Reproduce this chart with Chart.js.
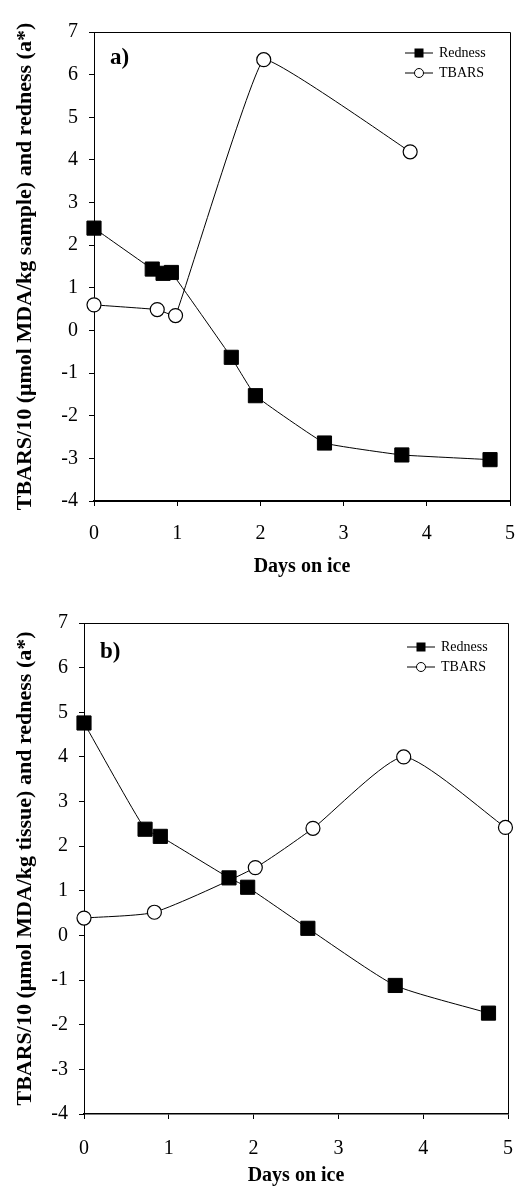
<!DOCTYPE html>
<html>
<head>
<meta charset="utf-8">
<script src="https://cdn.jsdelivr.net/npm/chart.js@4/dist/chart.umd.min.js"></script>
<style>
  body { margin: 0; background: #fff; }
  #wrapA { position: absolute; left: 0; top: 0; }
  #wrapB { position: absolute; left: 0; top: 590px; }
</style>
</head>
<body>
<div id="wrapA"><canvas id="chartA" width="531" height="590"></canvas></div>
<div id="wrapB"><canvas id="chartB" width="531" height="598"></canvas></div>
<script>
// panel a) - sample
const daysRedA = [0, 0.70, 0.83, 0.93, 1.65, 1.94, 2.77, 3.70, 4.76];
const rednessA = [2.40, 1.44, 1.34, 1.36, -0.63, -1.53, -2.64, -2.92, -3.03];
const daysTbarsA = [0, 0.76, 0.98, 2.04, 3.80];
const tbarsA = [0.60, 0.49, 0.35, 6.35, 4.19];

// panel b) - tissue
const daysRedB = [0, 0.72, 0.90, 1.71, 1.93, 2.64, 3.67, 4.77];
const rednessB = [4.76, 2.38, 2.22, 1.29, 1.08, 0.16, -1.12, -1.74];
const daysTbarsB = [0, 0.83, 2.02, 2.70, 3.77, 4.97];
const tbarsB = [0.39, 0.52, 1.52, 2.40, 4.00, 2.42];

const xTicks = [0, 1, 2, 3, 4, 5];
const yTicks = [-4, -3, -2, -1, 0, 1, 2, 3, 4, 5, 6, 7];

const serif = "'Liberation Serif', 'Times New Roman', serif";

function toPoints(xs, ys) {
    return xs.map((x, i) => ({ x: x, y: ys[i] }));
}

// top + right border of the plot box
const frame = {
    id: 'frame',
    beforeDatasetsDraw(chart) {
        const a = chart.chartArea;
        const ctx = chart.ctx;
        ctx.save();
        ctx.strokeStyle = '#000';
        ctx.lineWidth = 1;
        ctx.beginPath();
        ctx.moveTo(a.left, a.top + 0.5);
        ctx.lineTo(a.right + 0.5, a.top + 0.5);
        ctx.lineTo(a.right + 0.5, a.bottom);
        ctx.stroke();
        ctx.restore();
    }
};

// legend with line + marker, and the panel letter
const lineLegend = {
    id: 'lineLegend',
    afterDraw(chart, args, opts) {
        const ctx = chart.ctx;
        ctx.save();
        ctx.font = 'bold 23px ' + serif;
        ctx.fillStyle = '#000';
        ctx.textBaseline = 'middle';
        ctx.textAlign = 'left';
        ctx.fillText(opts.panel, opts.panelX, opts.panelY);

        ctx.font = '14px ' + serif;
        chart.data.datasets.forEach((ds, i) => {
            const y = opts.y + i * 20;
            ctx.strokeStyle = '#000';
            ctx.lineWidth = 1;
            ctx.beginPath();
            ctx.moveTo(opts.x, y);
            ctx.lineTo(opts.x + 28, y);
            ctx.stroke();
            const mx = opts.x + 14;
            if (ds.pointStyle === 'rect') {
                ctx.fillStyle = '#000';
                ctx.fillRect(mx - 4.5, y - 4.5, 9, 9);
            } else {
                ctx.fillStyle = '#fff';
                ctx.beginPath();
                ctx.arc(mx, y, 4.5, 0, Math.PI * 2);
                ctx.fill();
                ctx.stroke();
            }
            ctx.fillStyle = '#000';
            ctx.fillText(ds.label, opts.x + 34, y);
        });
        ctx.restore();
    }
};

function makeChart(id, red, tbars, cfg) {
    return new Chart(document.getElementById(id), {
        type: 'line',
        data: {
            datasets: [
                {
                    label: 'Redness',
                    data: red,
                    borderColor: '#000',
                    borderWidth: 1,
                    pointStyle: 'rect',
                    pointRadius: 10,
                    pointBackgroundColor: '#000',
                    pointBorderColor: '#000',
                    tension: cfg.tension,
                    clip: false
                },
                {
                    label: 'TBARS',
                    data: tbars,
                    borderColor: '#000',
                    borderWidth: 1,
                    pointStyle: 'circle',
                    pointRadius: 7,
                    pointBackgroundColor: '#fff',
                    pointBorderColor: '#000',
                    pointBorderWidth: 1.2,
                    tension: cfg.tension,
                    clip: false
                }
            ]
        },
        options: {
            responsive: false,
            animation: false,
            devicePixelRatio: 1,
            layout: { padding: { top: cfg.top, right: cfg.right, left: 0, bottom: 0 } },
            plugins: {
                legend: { display: false },
                tooltip: { enabled: false },
                lineLegend: cfg.legend
            },
            scales: {
                x: {
                    type: 'linear',
                    min: 0,
                    max: 5,
                    afterBuildTicks: s => { s.ticks = xTicks.map(v => ({ value: v })); },
                    afterFit: s => { s.height = cfg.xHeight; },
                    grid: { display: true, drawOnChartArea: false, drawTicks: true, tickLength: 5, color: '#000' },
                    border: { display: true, color: '#000', width: cfg.xBorder },
                    ticks: { color: '#000', padding: cfg.xPad, font: { family: serif, size: 20 } },
                    title: {
                        display: true,
                        text: 'Days on ice',
                        color: '#000',
                        padding: { top: 0, bottom: cfg.xTitlePad },
                        font: { family: serif, size: 20, weight: 'bold' }
                    }
                },
                y: {
                    type: 'linear',
                    min: -4,
                    max: 7,
                    afterBuildTicks: s => { s.ticks = yTicks.map(v => ({ value: v })); },
                    afterFit: s => { s.width = cfg.yWidth; },
                    grid: { display: true, drawOnChartArea: false, drawTicks: true, tickLength: 5, color: '#000' },
                    border: { display: true, color: '#000', width: 1 },
                    ticks: { color: '#000', padding: 11, font: { family: serif, size: 20 } },
                    title: {
                        display: true,
                        text: cfg.yTitle,
                        color: '#000',
                        padding: { top: cfg.yTitlePad, bottom: 0 },
                        font: { family: serif, size: 22, weight: 'bold' }
                    }
                }
            }
        },
        plugins: [frame, lineLegend]
    });
}

makeChart('chartA', toPoints(daysRedA, rednessA), toPoints(daysTbarsA, tbarsA), {
    top: 32, right: 12, xHeight: 89, yWidth: 94, xBorder: 2, xPad: 16, xTitlePad: 11, yTitlePad: 12,
    tension: 0.08,
    yTitle: 'TBARS/10 (\u03bcmol MDA/kg sample) and redness (a*)',
    legend: { x: 405, y: 53, panel: 'a)', panelX: 110, panelY: 58 }
});

makeChart('chartB', toPoints(daysRedB, rednessB), toPoints(daysTbarsB, tbarsB), {
    top: 33, right: 11, xHeight: 74, yWidth: 84, xBorder: 1.5, xPad: 18, xTitlePad: 0, yTitlePad: 12,
    tension: 0.18,
    yTitle: 'TBARS/10 (\u03bcmol MDA/kg tissue) and redness (a*)',
    legend: { x: 407, y: 57, panel: 'b)', panelX: 100, panelY: 62 }
});
</script>
</body>
</html>
